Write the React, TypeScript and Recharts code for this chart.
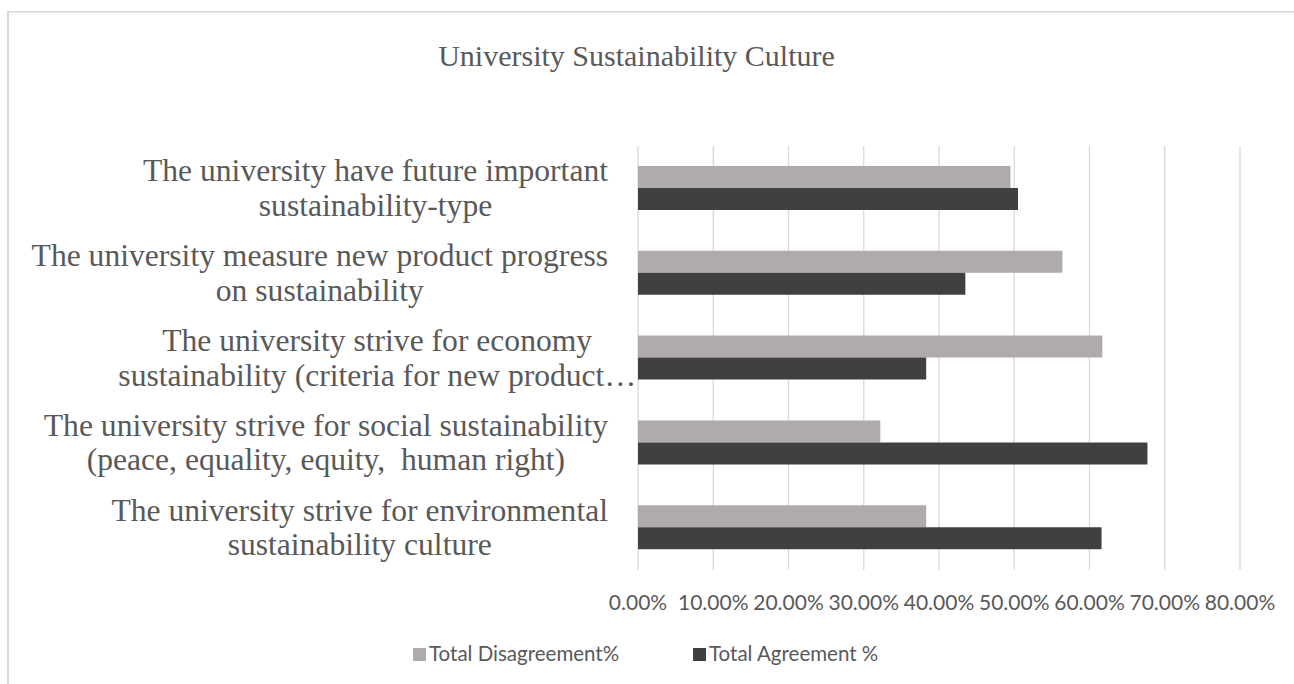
import React from 'react';
import { BarChart, Bar, XAxis, YAxis, CartesianGrid } from 'recharts';

const title = 'University Sustainability Culture';

const categoryLines: string[][] = [
  ['The university have future important', 'sustainability-type'],
  ['The university measure new product progress', 'on sustainability'],
  ['The university strive for economy', 'sustainability (criteria for new product…'],
  ['The university strive for social sustainability', '(peace, equality, equity,  human right)'],
  ['The university strive for environmental', 'sustainability culture'],
];

const seriesNames = ['Total Disagreement%', 'Total Agreement %'];
const seriesColors = ['#AFABAB', '#404040'];

const disagreement = [49.5, 56.4, 61.7, 32.2, 38.3];
const agreement = [50.5, 43.5, 38.3, 67.7, 61.6];

const xTicks = [0, 10, 20, 30, 40, 50, 60, 70, 80];

const data = categoryLines.map((lines, i) => ({
  category: lines.join(' '),
  dis: disagreement[i],
  agr: agreement[i],
}));

const W = 1294;
const H = 684;
const TEXT = '#595959';
const SERIF = '"Liberation Serif", "Times New Roman", serif';
const SANS = 'Lato, "Open Sans", sans-serif';

let ctx: CanvasRenderingContext2D | null = null;
function measure(s: string, font: string): number {
  if (!ctx) {
    const c = document.createElement('canvas');
    ctx = c.getContext('2d');
  }
  if (!ctx) return s.length * 14;
  ctx.font = font;
  return ctx.measureText(s).width;
}

const LABEL_SIZE = 31.6;

const YTick = (props: any) => {
  const { y, payload, index } = props;
  const lines = categoryLines[index] ?? [String(payload.value)];
  const font = `${LABEL_SIZE}px "Liberation Serif"`;
  const widths = lines.map((l) => measure(l, font));
  const maxW = Math.max(...widths);
  const truncated = lines.some((l) => l.endsWith('…'));
  const right = truncated ? 636 : 608;
  const cx = right - maxW / 2;
  return (
    <g>
      {lines.map((l, i) => (
        <text
          key={i}
          x={cx}
          y={y - 7 + 34.5 * i}
          textAnchor="middle"
          fill={TEXT}
          fontFamily={SERIF}
          fontSize={LABEL_SIZE}
          style={{ whiteSpace: 'pre' }}
        >
          {l}
        </text>
      ))}
    </g>
  );
};

const XTick = (props: any) => {
  const { x, y, payload } = props;
  return (
    <text x={x} y={y + 40} textAnchor="middle" fill={TEXT} fontFamily={SANS} fontSize={21}>
      {`${Number(payload.value).toFixed(2)}%`}
    </text>
  );
};

const legendX = [413, 693];

export default function App() {
  return (
    <div style={{ position: 'fixed', left: 0, top: 0, width: W, height: H, background: '#fff', overflow: 'hidden' }}>
      <div style={{ position: 'absolute', left: 0, top: 0 }}>
        <BarChart
          width={W}
          height={H}
          data={data}
          layout="vertical"
          margin={{ top: 146, right: 54, bottom: 64, left: 0 }}
          barGap={0}
        >
          <CartesianGrid horizontal={false} vertical={true} stroke="#D9D9D9" strokeWidth={1.3} />
          <XAxis
            type="number"
            domain={[0, 80]}
            ticks={xTicks}
            interval={0}
            axisLine={false}
            tickLine={false}
            tickSize={0}
            tickMargin={0}
            height={50}
            tick={<XTick />}
          />
          <YAxis
            type="category"
            dataKey="category"
            width={638}
            axisLine={false}
            tickLine={false}
            tickSize={0}
            interval={0}
            tick={<YTick />}
          />
          <Bar dataKey="dis" name={seriesNames[0]} fill={seriesColors[0]} barSize={22} isAnimationActive={false} />
          <Bar dataKey="agr" name={seriesNames[1]} fill={seriesColors[1]} barSize={22} isAnimationActive={false} />
        </BarChart>
      </div>
      <svg width={W} height={H} style={{ position: 'absolute', left: 0, top: 0, pointerEvents: 'none' }}>
        <rect x={7} y={11} width={2} height={H} fill="#D9D9D9" />
        <rect x={7} y={11} width={W} height={1.5} fill="#D9D9D9" />
        <text x={636.5} y={66} textAnchor="middle" fill={TEXT} fontFamily={SERIF} fontSize={30}>
          {title}
        </text>
        {seriesNames.map((n, i) => (
          <g key={n}>
            <rect x={legendX[i]} y={648} width={13} height={13} fill={seriesColors[i]} />
            <text x={legendX[i] + 16} y={661} fill={TEXT} fontFamily={SANS} fontSize={20.5}>
              {n}
            </text>
          </g>
        ))}
      </svg>
    </div>
  );
}
